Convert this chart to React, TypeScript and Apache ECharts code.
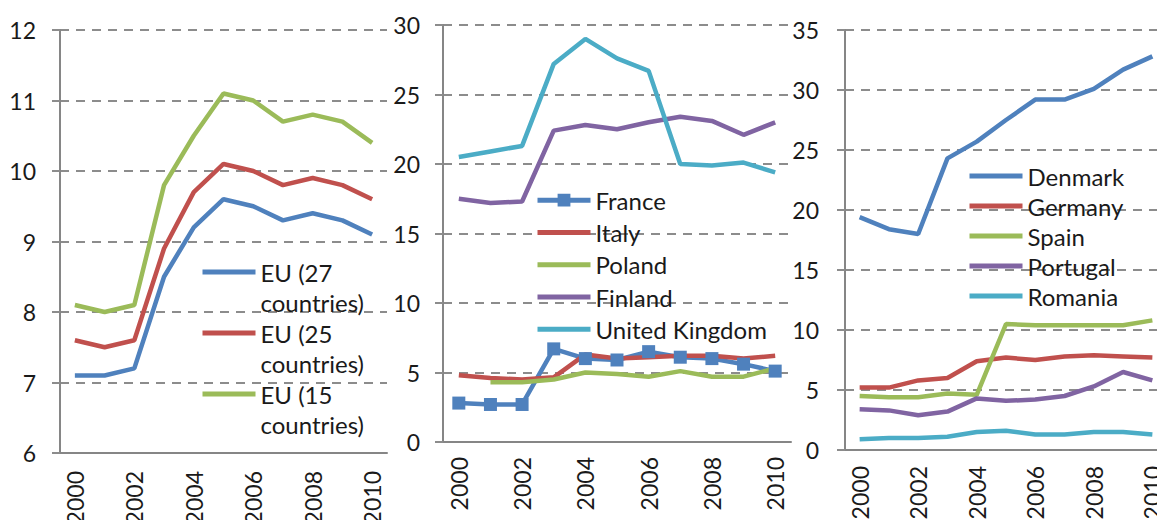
import React, { useEffect, useRef } from "react";
import * as echarts from "echarts";

const years = ["2000", "2001", "2002", "2003", "2004", "2005", "2006", "2007", "2008", "2009", "2010"];

// Left panel
const eu27 = [7.1, 7.1, 7.2, 8.5, 9.2, 9.6, 9.5, 9.3, 9.4, 9.3, 9.1];
const eu25 = [7.6, 7.5, 7.6, 8.9, 9.7, 10.1, 10.0, 9.8, 9.9, 9.8, 9.6];
const eu15 = [8.1, 8.0, 8.1, 9.8, 10.5, 11.1, 11.0, 10.7, 10.8, 10.7, 10.4];

// Middle panel
const france = [2.8, 2.7, 2.7, 6.7, 6.0, 5.9, 6.5, 6.1, 6.0, 5.6, 5.1];
const italy = [4.8, 4.6, 4.5, 4.65, 6.3, 6.0, 6.1, 6.2, 6.2, 6.0, 6.2];
const poland = [null, 4.3, 4.3, 4.5, 5.0, 4.9, 4.7, 5.1, 4.7, 4.7, 5.3];
const finland = [17.5, 17.2, 17.3, 22.4, 22.8, 22.5, 23.0, 23.4, 23.1, 22.1, 23.0];
const uk = [20.5, 20.9, 21.3, 27.2, 29.0, 27.6, 26.7, 20.0, 19.9, 20.1, 19.4];

// Right panel
const denmark = [19.4, 18.4, 18.0, 24.3, 25.7, 27.5, 29.2, 29.2, 30.1, 31.7, 32.8];
const germany = [5.2, 5.2, 5.8, 6.0, 7.4, 7.7, 7.5, 7.8, 7.9, 7.8, 7.7];
const spain = [4.5, 4.4, 4.4, 4.7, 4.6, 10.5, 10.4, 10.4, 10.4, 10.4, 10.8];
const portugal = [3.4, 3.3, 2.9, 3.2, 4.3, 4.1, 4.2, 4.5, 5.3, 6.5, 5.8];
const romania = [0.9, 1.0, 1.0, 1.1, 1.5, 1.6, 1.3, 1.3, 1.5, 1.5, 1.3];

const leftNames = ["EU (27 countries)", "EU (25 countries)", "EU (15 countries)"];
const midNames = ["France", "Italy", "Poland", "Finland", "United Kingdom"];
const rightNames = ["Denmark", "Germany", "Spain", "Portugal", "Romania"];

const BLUE = "#4F81BD";
const RED = "#C0504D";
const GREEN = "#9BBB59";
const PURPLE = "#8064A2";
const CYAN = "#4BACC6";

const FONT = "Lato";
const TXT = "#1a1a1a";
const GRID_C = "#8c8c8c";

export default function App() {
  const ref = useRef<HTMLDivElement>(null);
  useEffect(() => {
    if (!ref.current) return;
    const chart = echarts.init(ref.current, null, { renderer: "svg" });

    const xAxis = (gridIndex: number, tickEvery: number, margin: number) => ({
      type: "category",
      gridIndex,
      data: years,
      boundaryGap: true,
      axisLine: { lineStyle: { color: "#868686", width: 2 } },
      axisTick: { interval: tickEvery, length: 8, lineStyle: { color: "#868686", width: 2 } },
      axisLabel: {
        interval: 1,
        rotate: 90,
        margin,
        fontSize: 23,
        fontFamily: FONT,
        color: TXT,
      },
      splitLine: { show: false },
    });
    const yAxis = (gridIndex: number, min: number, max: number, interval: number, margin: number) => ({
      type: "value",
      gridIndex,
      min,
      max,
      interval,
      axisLine: { show: true, lineStyle: { color: "#868686", width: 2 } },
      axisTick: { show: true, length: 8, lineStyle: { color: GRID_C, width: 2 } },
      axisLabel: { margin, fontSize: 23, fontFamily: FONT, color: TXT },
      splitLine: { show: true, lineStyle: { color: GRID_C, width: 2, type: [9, 7] } },
    });

    const line = (name: string, data: any[], color: string, xi: number, extra: any = {}) => ({
      name,
      type: "line",
      xAxisIndex: xi,
      yAxisIndex: xi,
      data,
      symbol: "none",
      lineStyle: { color, width: 4.5 },
      itemStyle: { color },
      ...extra,
    });

    const legendData = (names: string[]) =>
      names.map((n) => (n === "France" ? { name: n } : { name: n, itemStyle: { opacity: 0 } }));

    const legendBase = {
      orient: "vertical",
      padding: 0,
      itemWidth: 53,
      itemHeight: 16,
      lineStyle: { width: 5 },
    };
    const legendText = (lh: number) => ({
      fontSize: 24,
      fontFamily: FONT,
      color: TXT,
      lineHeight: lh,
    });

    chart.setOption({
      animation: false,
      textStyle: { fontFamily: FONT },
      grid: [
        { left: 60, top: 30, width: 327, height: 423, outerBoundsMode: "none" },
        { left: 443, top: 25, width: 348, height: 417, outerBoundsMode: "none" },
        { left: 845, top: 30, width: 322, height: 420, outerBoundsMode: "none" },
      ],
      xAxis: [xAxis(0, 0, 18), xAxis(1, 1, 15), xAxis(2, 0, 16)],
      yAxis: [yAxis(0, 6, 12, 1, 24), yAxis(1, 0, 30, 5, 23), yAxis(2, 0, 35, 5, 26)],
      legend: [
        {
          ...legendBase,
          data: legendData(leftNames),
          left: 200,
          top: 227,
          itemGap: -29,
          formatter: (n: string) => "\n" + n.replace(" countries", "\ncountries"),
          textStyle: legendText(30),
        },
        {
          ...legendBase,
          data: legendData(midNames),
          left: 535,
          top: 184,
          itemGap: 0,
          textStyle: legendText(32.3),
        },
        {
          ...legendBase,
          data: legendData(rightNames),
          left: 967,
          top: 161,
          itemGap: 0,
          textStyle: legendText(30),
        },
      ],
      series: [
        line(leftNames[0], eu27, BLUE, 0),
        line(leftNames[1], eu25, RED, 0),
        line(leftNames[2], eu15, GREEN, 0),
        line("France", france, BLUE, 1, { symbol: "rect", symbolSize: 13, showSymbol: true }),
        line("Italy", italy, RED, 1),
        line("Poland", poland, GREEN, 1),
        line("Finland", finland, PURPLE, 1),
        line("United Kingdom", uk, CYAN, 1),
        line("Denmark", denmark, BLUE, 2),
        line("Germany", germany, RED, 2),
        line("Spain", spain, GREEN, 2),
        line("Portugal", portugal, PURPLE, 2),
        line("Romania", romania, CYAN, 2),
      ],
    });
    return () => chart.dispose();
  }, []);
  return (
    <div
      ref={ref}
      style={{ position: "fixed", left: 0, top: 0, width: 1157, height: 520, background: "#fff" }}
    />
  );
}
